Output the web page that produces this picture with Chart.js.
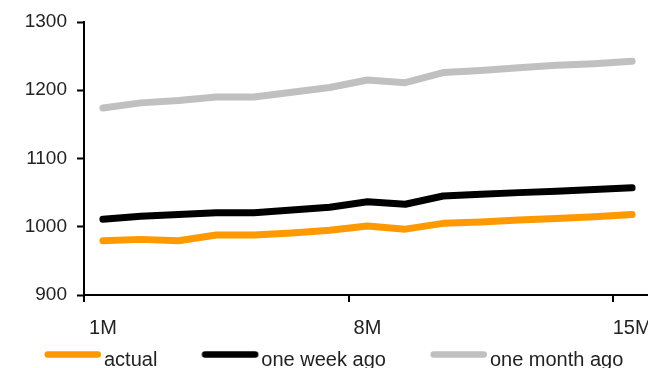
<!DOCTYPE html>
<html>
<head>
<meta charset="utf-8">
<script src="https://cdn.jsdelivr.net/npm/chart.js@4/dist/chart.umd.min.js"></script>
<style>
  html, body { margin: 0; padding: 0; background: #fff; overflow: hidden; }
  #wrap { position: absolute; left: 0; top: 0; }
</style>
</head>
<body>
<div id="wrap"><canvas id="chart" width="651" height="380"></canvas></div>
<script>
// Tenors along the curve
const categories = ['1M', '2M', '3M', '4M', '5M', '6M', '7M', '8M', '9M', '10M', '11M', '12M', '13M', '14M', '15M'];
// Labelled tenors on the x axis
const xTickLabels = ['1M', '8M', '15M'];

// Curve levels
const actual   = [979.5, 981.5, 979.5, 988, 988, 991, 995, 1001, 996.5, 1005, 1007, 1010, 1012, 1014.5, 1018];
const weekAgo  = [1011, 1015.5, 1018, 1020.5, 1020.5, 1024.5, 1028.5, 1036.5, 1033, 1045, 1047.5, 1050, 1052, 1054.5, 1057];
const monthAgo = [1174, 1181.5, 1185, 1190, 1190, 1197, 1204, 1215, 1211, 1226, 1229, 1233, 1236.5, 1239, 1242.5];

const seriesNames = ['actual', 'one week ago', 'one month ago'];
const seriesColors = ['#FF9900', '#000000', '#C0C0C0'];

const yMin = 900, yMax = 1300, yStep = 100;

const FAMILY = '"Liberation Sans", Arial, sans-serif';
const TEXT = '#222222';

// Legend swatch: a thick rounded line sitting slightly above the text middle
function makeSwatch(color) {
  const c = document.createElement('canvas');
  c.width = 104; c.height = 24;
  const g = c.getContext('2d');
  g.strokeStyle = color;
  g.lineWidth = 6.5;
  g.lineCap = 'round';
  g.beginPath();
  g.moveTo(47.75, 6.5);
  g.lineTo(97.75, 6.5);
  g.stroke();
  return c;
}

function lineDataset(label, data, color) {
  return {
    label,
    data,
    borderColor: color,
    backgroundColor: color,
    borderWidth: 7,
    borderCapStyle: 'round',
    borderJoinStyle: 'round',
    pointRadius: 0,
    pointHoverRadius: 0,
    tension: 0,
    fill: false
  };
}

new Chart(document.getElementById('chart'), {
  type: 'line',
  data: {
    labels: categories,
    datasets: [
      lineDataset(seriesNames[0], actual, seriesColors[0]),
      lineDataset(seriesNames[1], weekAgo, seriesColors[1]),
      lineDataset(seriesNames[2], monthAgo, seriesColors[2])
    ]
  },
  options: {
    responsive: false,
    animation: false,
    devicePixelRatio: 1,
    layout: { padding: { top: 22, right: 0, bottom: 0, left: 0 } },
    plugins: {
      tooltip: { enabled: false },
      legend: {
        position: 'bottom',
        align: 'start',
        labels: {
          font: { family: FAMILY, size: 20 },
          color: TEXT,
          usePointStyle: true,
          pointStyleWidth: 84,
          padding: 10,
          generateLabels(chart) {
            const items = Chart.defaults.plugins.legend.labels.generateLabels(chart);
            items.forEach(it => { it.pointStyle = makeSwatch(it.strokeStyle); });
            return items;
          }
        }
      }
    },
    scales: {
      x: {
        offset: true,
        grid: {
          offset: true,
          drawOnChartArea: false,
          drawTicks: true,
          tickLength: 7,
          lineWidth: 2,
          tickWidth: 2,
          color: (ctx) => xTickLabels.includes(categories[ctx.index]) ? '#000' : 'rgba(0,0,0,0)'
        },
        border: { display: true, color: '#000', width: 2 },
        ticks: {
          autoSkip: false,
          maxRotation: 0,
          padding: 14,
          font: { family: FAMILY, size: 20 },
          color: TEXT,
          callback(value, index) {
            const lab = categories[index];
            return xTickLabels.includes(lab) ? lab : '';
          }
        },
        afterFit(scale) {
          scale.height = 45;
          scale.paddingLeft = 0;
          scale.paddingRight = 0;
        }
      },
      y: {
        min: yMin,
        max: yMax,
        grid: {
          drawOnChartArea: false,
          drawTicks: true,
          tickLength: 7,
          tickWidth: 2,
          color: '#000'
        },
        border: { display: true, color: '#000', width: 2 },
        ticks: {
          stepSize: yStep,
          padding: 10,
          font: { family: FAMILY, size: 19 },
          color: TEXT,
          callback: (value) => String(value)
        },
        afterFit(scale) {
          scale.width = 84;
        }
      }
    }
  }
});
</script>
</body>
</html>
